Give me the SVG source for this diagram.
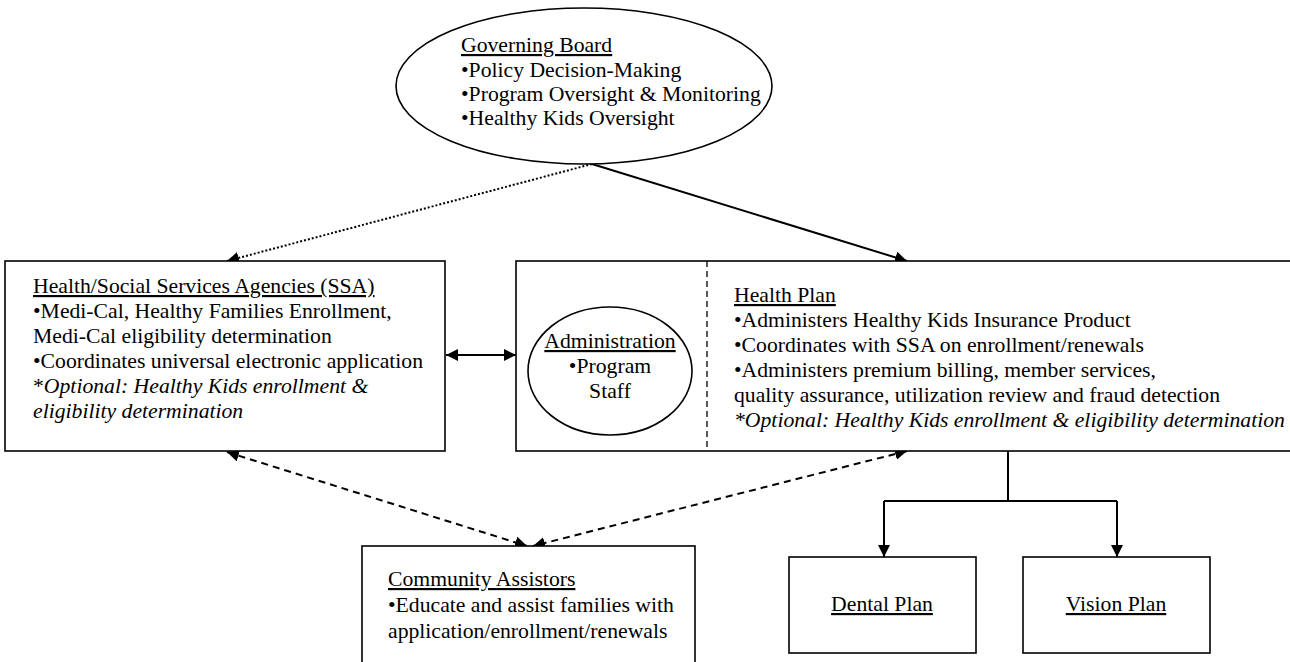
<svg xmlns="http://www.w3.org/2000/svg" width="1290" height="662" viewBox="0 0 1290 662">
<style>
text{font-family:"Liberation Serif","Times New Roman",serif;font-size:21.7px;fill:#000}
.u{text-decoration:underline}
.i{font-style:italic}
.box{fill:#fff;stroke:#000;stroke-width:1.6}
.c{fill:none;stroke:#000;stroke-width:2}
.dot{stroke-dasharray:2 2}
.dash{stroke-dasharray:7 5}
</style>
<defs>
<marker id="ah" viewBox="0 0 10 10" refX="10" refY="5" markerWidth="12" markerHeight="12" markerUnits="userSpaceOnUse" orient="auto-start-reverse">
<path d="M0,0 L10,5 L0,10 z" fill="#000"/>
</marker>
</defs>
<g id="connectors">
<line class="c dot" x1="592" y1="164" x2="227" y2="261" marker-end="url(#ah)"/>
<line class="c" x1="592" y1="164" x2="907" y2="261" marker-end="url(#ah)"/>
<line class="c" x1="446" y1="355" x2="516" y2="355" marker-start="url(#ah)" marker-end="url(#ah)"/>
<line class="c dash" x1="227" y1="452" x2="527" y2="546" marker-start="url(#ah)" marker-end="url(#ah)"/>
<line class="c dash" x1="907" y1="451" x2="533" y2="546" marker-start="url(#ah)" marker-end="url(#ah)"/>
<path class="c" d="M1008,443 V501 M884,501 H1117"/>
<line class="c" x1="884" y1="501" x2="884" y2="557" marker-end="url(#ah)"/>
<line class="c" x1="1117" y1="501" x2="1117" y2="557" marker-end="url(#ah)"/>
</g>
<g id="governing-board">
<ellipse class="box" cx="584" cy="86" rx="188" ry="78"/>
<text x="461" y="52" class="u">Governing Board</text>
<text x="461" y="77">•Policy Decision-Making</text>
<text x="461" y="101">•Program Oversight &amp; Monitoring</text>
<text x="461" y="125">•Healthy Kids Oversight</text>
</g>
<g id="ssa">
<rect class="box" x="5" y="261" width="440" height="190"/>
<text x="33" y="293" class="u">Health/Social Services Agencies (SSA)</text>
<text x="33" y="318">•Medi-Cal, Healthy Families Enrollment,</text>
<text x="33" y="343">Medi-Cal eligibility determination</text>
<text x="33" y="368">•Coordinates universal electronic application</text>
<text x="33" y="393">*<tspan class="i">Optional: Healthy Kids enrollment &amp;</tspan></text>
<text x="33" y="418" class="i">eligibility determination</text>
</g>
<g id="health-plan">
<rect class="box" x="516" y="261" width="800" height="190"/>
<line x1="707" y1="261" x2="707" y2="451" stroke="#000" stroke-width="1.3" stroke-dasharray="6 4"/>
<text x="734" y="302" class="u">Health Plan</text>
<text x="734" y="327">•Administers Healthy Kids Insurance Product</text>
<text x="734" y="352">•Coordinates with SSA on enrollment/renewals</text>
<text x="734" y="377">•Administers premium billing, member services,</text>
<text x="734" y="402">quality assurance, utilization review and fraud detection</text>
<text x="734" y="427" class="i">*Optional: Healthy Kids enrollment &amp; eligibility determination</text>
</g>
<g id="administration">
<ellipse class="box" cx="610" cy="371" rx="82" ry="64"/>
<text x="610" y="348" text-anchor="middle" class="u">Administration</text>
<text x="610" y="373" text-anchor="middle">•Program</text>
<text x="610" y="398" text-anchor="middle">Staff</text>
</g>
<g id="community-assistors">
<rect class="box" x="362" y="546" width="333" height="130"/>
<text x="388" y="586" class="u">Community Assistors</text>
<text x="388" y="612">•Educate and assist families with</text>
<text x="388" y="638">application/enrollment/renewals</text>
</g>
<g id="dental-plan">
<rect class="box" x="789" y="557" width="187" height="96"/>
<text x="882" y="611" text-anchor="middle" class="u">Dental Plan</text>
</g>
<g id="vision-plan">
<rect class="box" x="1023" y="557" width="187" height="96"/>
<text x="1116" y="611" text-anchor="middle" class="u">Vision Plan</text>
</g>
</svg>
